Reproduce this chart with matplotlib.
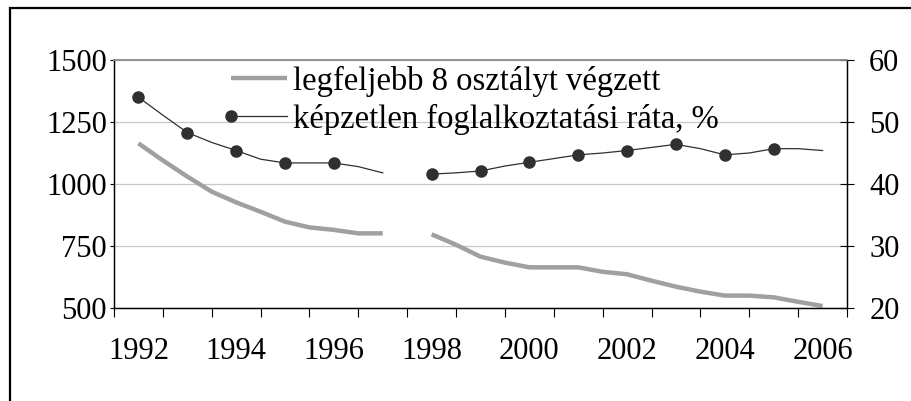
import matplotlib
matplotlib.use('Agg')
import matplotlib.pyplot as plt
import numpy as np
from matplotlib.legend_handler import HandlerLine2D
from matplotlib.lines import Line2D
from matplotlib.patches import Rectangle
from matplotlib.ticker import MultipleLocator, FixedLocator

plt.rcParams['font.family'] = ['Liberation Serif', 'DejaVu Serif']

# Data (half-year steps, 1992 .. 2006; nan = gap in 1997/98)
years = [1992, 1993, 1994, 1995, 1996, 1997, 1998, 1999,
         2000, 2001, 2002, 2003, 2004, 2005, 2006]
nan = np.nan
max8 = [1164, 1095, 1030, 969, 926, 888, 848, 825, 815, 801, 801, nan,
        797, 755, 707, 683, 664, 664, 664, 646, 636, 610, 586, 566,
        550, 550, 543, 525, 508]
rate = [54.0, 51.1, 48.3, 46.7, 45.4, 44.0, 43.4, 43.4, 43.4, 42.8, 41.8, nan,
        41.6, 41.8, 42.1, 42.9, 43.5, 44.1, 44.7, 45.0, 45.4, 45.9, 46.4, 45.7,
        44.7, 45.0, 45.7, 45.7, 45.4]
marked_years = [1992, 1993, 1994, 1995, 1996, 1998, 1999, 2000,
                2001, 2002, 2003, 2004, 2005]
label1 = 'legfeljebb 8 osztályt végzett'
label2 = 'képzetlen foglalkoztatási ráta, %'

pos = np.arange(len(max8)) * 0.5
mark_idx = [(y - years[0]) * 2 for y in marked_years]


# legend handle with the marker at the left end of the line
class LeftMarker(HandlerLine2D):
    def create_artists(self, legend, orig_handle, xdescent, ydescent,
                       width, height, fontsize, trans):
        y = (height - ydescent) / 2
        line = Line2D([-xdescent, -xdescent + width], [y, y])
        self.update_prop(line, orig_handle, legend)
        line.set_markevery([0])
        line.set_transform(trans)
        return [line]


fig = plt.figure(figsize=(9.11, 4.01), dpi=100)
ax = fig.add_axes([114/911, 1 - 308/401, 733/911, 248/401])
ax2 = ax.twinx()

l1, = ax.plot(pos, max8, color='#a0a0a0', lw=3.2, solid_capstyle='butt')
l2, = ax2.plot(pos, rate, color='#303030', lw=0.9, marker='o', ms=8,
               markevery=mark_idx, mfc='#303030', mec='#303030')

ax.set_xlim(-0.5, len(years) - 0.5)
ax.set_ylim(500, 1500)
ax2.set_ylim(20, 60)
ax.yaxis.set_major_locator(MultipleLocator(250))
ax2.yaxis.set_major_locator(MultipleLocator(10))

ax.set_xticks(range(0, len(years), 2))
ax.set_xticklabels([str(y) for y in years[::2]])
ax.xaxis.set_minor_locator(FixedLocator(np.arange(-0.5, len(years), 1.0)))
ax.tick_params(axis='x', which='major', length=0, pad=21, labelsize=22)
ax.tick_params(axis='x', which='minor', length=6.5, width=0.8, direction='out')
ax.tick_params(axis='y', length=3, width=0.8, direction='out', pad=2, labelsize=22)
ax2.tick_params(axis='y', length=10, width=0.8, direction='inout', pad=11, labelsize=22)

ax.grid(axis='y', color='#c8c8c8', lw=0.9)
ax.set_axisbelow(True)
for a in (ax, ax2):
    a.spines['top'].set_color('#909090')
    a.spines['top'].set_linewidth(1.2)
    a.spines['left'].set_linewidth(0.9)
    a.spines['right'].set_linewidth(0.9)
    a.spines['bottom'].set_linewidth(0.9)

ax2.legend([l1, l2], [label1, label2], loc='upper left',
           bbox_to_anchor=(0.16, 0.978), frameon=False, fontsize=23.5,
           handlelength=1.7, handletextpad=0.2, labelspacing=0.22,
           borderpad=0, borderaxespad=0,
           handler_map={l2: LeftMarker(), l1: HandlerLine2D(numpoints=1)})

# outer frame of the original picture
fig.patches.append(Rectangle((10/911, -0.2), 1.2, 1.2 - 8/401,
                             transform=fig.transFigure, fill=False,
                             ec='black', lw=1.6))

fig.savefig('out.png', dpi=100)
